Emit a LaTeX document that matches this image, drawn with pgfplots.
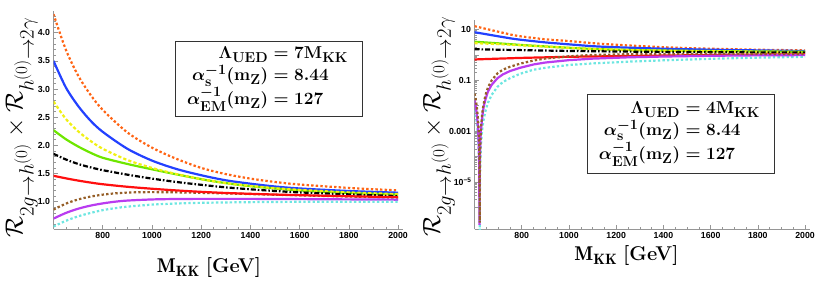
\documentclass[border=0pt]{standalone}
\usepackage{fontspec}
\usepackage{amsmath,bm}
\usepackage{pgfplots}
\pgfplotsset{compat=1.18}
\DeclareMathSizes{19}{19}{14.5}{10.5}
\DeclareMathSizes{20}{20}{15}{11}
\DeclareMathSizes{28}{28}{21}{16}
\newfontfamily\tickfont{Liberation Sans}
\definecolor{cor}{RGB}{255,100,20}
\definecolor{cbl}{RGB}{35,65,255}
\definecolor{cye}{RGB}{240,240,20}
\definecolor{cgr}{RGB}{110,230,0}
\definecolor{cre}{RGB}{255,15,15}
\definecolor{cbr}{RGB}{150,95,40}
\definecolor{cpu}{RGB}{185,60,240}
\definecolor{ccy}{RGB}{110,230,225}
\definecolor{axg}{RGB}{150,150,150}
\newcommand{\boxline}[2]{\makebox[86bp][r]{$#1$}\makebox[88bp][l]{$#2$}}
\pgfplotsset{
  mystyle/.style={
    scale only axis, axis lines*=left,
    axis line style={axg, line width=0.6bp},
    tick style={axg, line width=0.5bp},
    tick align=inside, major tick length=4bp, minor tick length=2bp,
    tick label style={font=\tickfont\bfseries\fontsize{8.8}{10}\selectfont, black},
    xmin=600, xmax=2020,
    xtick={800,1000,1200,1400,1600,1800,2000},
    xticklabels={800,1000,1200,1400,1600,1800,2000},
    minor xtick={600,650,...,2000},
    clip=true,
  },
  dotl/.style={line width=2.2bp, dash pattern=on 2.4bp off 2.2bp},
  dashl/.style={line width=2.2bp, dash pattern=on 3.2bp off 2.2bp},
  dashdotl/.style={line width=2.2bp, dash pattern=on 5bp off 2bp on 1.6bp off 2bp},
  solidl/.style={line width=2.2bp},
}
\begin{document}
\begin{tikzpicture}[x=1bp,y=1bp]
\useasboundingbox (0,0) rectangle (830,284);
% ---------------- left panel ----------------
\begin{axis}[mystyle, at={(53.5bp,54.7bp)}, anchor=south west,
  width=349.5bp, height=218bp,
  ymin=0.51, ymax=4.38,
  ytick={1,1.5,2,2.5,3,3.5,4},
  yticklabels={1.0,1.5,2.0,2.5,3.0,3.5,4.0},
  minor ytick={0.6,0.7,...,4.31},
  xlabel={$\mathbf{M_{KK}}$ \textbf{[GeV]}},
  xlabel style={font=\fontsize{20}{22}\selectfont, at={(axis description cs:0.445,-0.1775)}, anchor=center},
  ylabel={$\mathcal{R}_{2g\to h^{(0)}}\times\mathcal{R}_{h^{(0)}\to 2\gamma}$},
  ylabel style={font=\fontsize{28}{30}\selectfont, at={(axis description cs:-0.0880,0.467)}, anchor=base, inner sep=0pt},
]
\addplot[cor, dotl, smooth] coordinates {(600,4.33)(650,3.70)(700,3.24)(750,2.90)(800,2.63)(900,2.23)(1000,1.96)(1100,1.76)(1200,1.60)(1300,1.49)(1400,1.41)(1500,1.35)(1600,1.305)(1800,1.245)(2000,1.20)};
\addplot[cbl, solidl, smooth] coordinates {(600,3.50)(650,3.03)(700,2.70)(750,2.44)(800,2.24)(900,1.94)(1000,1.73)(1100,1.58)(1200,1.47)(1300,1.38)(1400,1.32)(1500,1.27)(1600,1.235)(1800,1.19)(2000,1.16)};
\addplot[cgr, solidl, smooth] coordinates {(600,2.27)(650,2.11)(700,1.98)(750,1.87)(800,1.78)(900,1.67)(1000,1.575)(1100,1.485)(1200,1.40)(1300,1.33)(1400,1.275)(1500,1.235)(1600,1.20)(1800,1.155)(2000,1.125)};
\addplot[cye, dashl, smooth] coordinates {(600,2.78)(650,2.47)(700,2.25)(750,2.08)(800,1.94)(900,1.74)(1000,1.60)(1100,1.49)(1200,1.40)(1300,1.33)(1400,1.28)(1500,1.24)(1600,1.21)(1800,1.165)(2000,1.135)};
\addplot[black, dashdotl, smooth] coordinates {(600,1.85)(650,1.75)(700,1.67)(750,1.61)(800,1.56)(900,1.48)(1000,1.41)(1100,1.35)(1200,1.30)(1300,1.255)(1400,1.22)(1500,1.19)(1600,1.165)(1800,1.13)(2000,1.10)};
\addplot[cbr, dotl, smooth] coordinates {(600,0.86)(650,0.965)(700,1.04)(750,1.09)(800,1.125)(850,1.148)(900,1.162)(950,1.168)(1000,1.17)(1100,1.166)(1200,1.157)(1300,1.147)(1400,1.136)(1500,1.124)(1600,1.113)(1800,1.092)(2000,1.072)};
\addplot[cre, solidl, smooth] coordinates {(600,1.46)(650,1.415)(700,1.375)(750,1.34)(800,1.31)(900,1.265)(1000,1.23)(1100,1.20)(1200,1.175)(1300,1.155)(1400,1.14)(1500,1.127)(1600,1.116)(1800,1.097)(2000,1.08)};
\addplot[cpu, solidl, smooth] coordinates {(600,0.70)(650,0.80)(700,0.875)(750,0.93)(800,0.97)(850,1.0)(900,1.02)(1000,1.04)(1100,1.048)(1200,1.05)(1400,1.05)(1600,1.046)(1800,1.041)(2000,1.036)};
\addplot[ccy, dotl, smooth] coordinates {(600,0.56)(650,0.66)(700,0.74)(750,0.80)(800,0.85)(850,0.885)(900,0.912)(1000,0.948)(1100,0.968)(1200,0.98)(1400,0.992)(1600,0.998)(1800,1.0)(2000,1.0)};
\node[draw=black!80, line width=0.8bp, fill=white, minimum width=187bp, minimum height=75bp, inner sep=0pt, align=center, font=\fontsize{19}{21.7}\selectfont\boldmath]
  at (axis description cs:0.617,0.689) {\boxline{\Lambda_{\mathbf{UED}}}{{}=\mathbf{7M_{KK}}}\\[0.5pt]
  \boxline{\alpha_{\mathbf{s}}^{-1}(\mathbf{m_Z})}{{}=8.44}\\[0.5pt]
  \boxline{\alpha_{\mathbf{EM}}^{-1}(\mathbf{m_Z})}{{}=127}};
\end{axis}
% ---------------- right panel ----------------
\begin{axis}[mystyle, at={(474.5bp,54.7bp)}, anchor=south west,
  width=335.3bp, height=209bp,
  ymode=log, ymin=1.35e-7, ymax=23,
  ytickten={-6,...,1},
  yticklabels={{},{10\raisebox{0.45em}{\fontsize{6.5}{7}\selectfont\textminus5}},{},{0.001},{},{0.1},{},{10}},
  xlabel={$\mathbf{M_{KK}}$ \textbf{[GeV]}},
  xlabel style={font=\fontsize{20}{22}\selectfont, at={(axis description cs:0.4533,-0.1278)}, anchor=center},
  ylabel={$\mathcal{R}_{2g\to h^{(0)}}\times\mathcal{R}_{h^{(0)}\to 2\gamma}$},
  ylabel style={font=\fontsize{28}{30}\selectfont, at={(axis description cs:-0.1029,0.49)}, anchor=base, inner sep=0pt},
]
\addplot[cor, dotl, smooth] coordinates {(600,13.5)(650,10.5)(700,8.2)(764,6.0)(800,5.3)(900,4.1)(1000,3.5)(1100,2.9)(1200,2.5)(1400,2.0)(1600,1.75)(1800,1.6)(2000,1.5)};
\addplot[cbl, solidl, smooth] coordinates {(600,7.8)(650,6.5)(700,5.4)(764,4.3)(800,3.9)(900,3.1)(1000,2.6)(1100,2.2)(1200,2.0)(1400,1.75)(1600,1.6)(1800,1.5)(2000,1.42)};
\addplot[cgr, solidl, smooth] coordinates {(600,3.3)(700,2.85)(800,2.45)(900,2.15)(1000,1.9)(1100,1.72)(1200,1.6)(1400,1.48)(1600,1.41)(1800,1.36)(2000,1.33)};
\addplot[cye, dashl, smooth] coordinates {(600,2.9)(700,2.65)(800,2.38)(900,2.12)(1000,1.88)(1100,1.70)(1200,1.58)(1400,1.46)(1600,1.39)(1800,1.34)(2000,1.31)};
\addplot[black, dashdotl, smooth] coordinates {(600,1.67)(700,1.6)(800,1.54)(900,1.48)(1000,1.43)(1200,1.36)(1400,1.31)(1600,1.28)(1800,1.25)(2000,1.23)};
\addplot[cre, solidl, smooth] coordinates {(600,0.66)(700,0.71)(800,0.76)(900,0.80)(1000,0.84)(1200,0.89)(1400,0.94)(1600,0.98)(1800,1.02)(2000,1.05)};
\addplot[ccy, dotl] coordinates {(600,0.0066)(605,0.0045)(610,0.0020)(614,0.0008)(617,0.00026)(619,0.000092)(620,0.000041)(621,0.00001)(622,1e-7)(623,0.00001)(624,0.000041)(627,0.00026)(631,0.0008)(634,0.0015)(638,0.0026)(642,0.004)(648,0.007)(657,0.013)(672,0.026)(697,0.055)(720,0.085)(750,0.12)(793,0.18)(850,0.26)(900,0.31)(1000,0.40)(1100,0.46)(1250,0.54)(1400,0.61)(1600,0.70)(1800,0.78)(2000,0.84)};
\addplot[cpu, solidl] coordinates {(600,0.0166)(605,0.010)(610,0.0045)(614,0.0018)(617,0.00047)(619,0.00012)(620,0.000029)(621,2e-7)(622,0.000029)(623,0.00012)(625,0.00047)(627,0.00105)(631,0.0024)(634,0.0045)(638,0.0082)(642,0.012)(648,0.02)(657,0.036)(672,0.065)(697,0.12)(720,0.17)(750,0.23)(793,0.31)(850,0.42)(900,0.5)(1000,0.62)(1100,0.71)(1250,0.8)(1400,0.86)(1600,0.92)(1800,0.96)(2000,0.98)};
\addplot[cbr, dotl] coordinates {(600,0.030)(605,0.019)(610,0.0085)(614,0.0036)(617,0.0013)(619,0.00045)(620,0.00018)(621,0.00004)(621.5,0.00001)(622,2.5e-7)(622.5,0.000011)(623,0.000042)(624,0.00017)(626,0.00068)(628,0.0015)(632,0.0042)(635,0.0071)(639,0.012)(643,0.0186)(649,0.031)(658,0.055)(673,0.10)(698,0.19)(720,0.26)(750,0.34)(793,0.45)(850,0.6)(900,0.72)(1000,0.88)(1100,0.99)(1250,1.06)(1400,1.09)(1600,1.10)(1800,1.09)(2000,1.08)};
\node[draw=black!80, line width=0.8bp, fill=white, minimum width=187bp, minimum height=79bp, inner sep=0pt, align=center, font=\fontsize{19}{21.7}\selectfont\boldmath]
  at (axis description cs:0.616,0.457) {\boxline{\Lambda_{\mathbf{UED}}}{{}=\mathbf{4M_{KK}}}\\[0.5pt]
  \boxline{\alpha_{\mathbf{s}}^{-1}(\mathbf{m_Z})}{{}=8.44}\\[0.5pt]
  \boxline{\alpha_{\mathbf{EM}}^{-1}(\mathbf{m_Z})}{{}=127}};
\end{axis}
\end{tikzpicture}
\end{document}
